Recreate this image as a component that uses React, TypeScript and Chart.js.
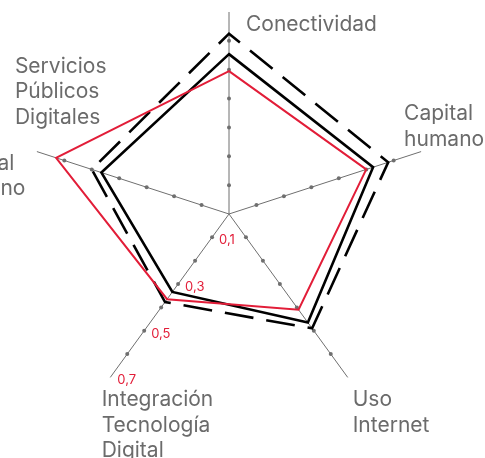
import React, { useEffect, useRef } from "react";
import { Chart, registerables } from "chart.js";

Chart.register(...registerables);

// ---- data ----
const axisLabels = [
  "Conectividad",
  "Capital humano",
  "Uso Internet",
  "Integración Tecnología Digital",
  "Servicios Públicos Digitales",
];
const axisLabelLines = [
  ["Conectividad"],
  ["Capital", "humano"],
  ["Uso", "Internet"],
  ["Integración", "Tecnología", "Digital"],
  ["Servicios", "Públicos", "Digitales"],
];
// label fragment of a neighbouring chart, cut by the left edge
const edgeLabelLines = ["Capital", "humano"];

const seriesRed = [0.495, 0.5, 0.41, 0.365, 0.63];
const seriesBlack = [0.554, 0.525, 0.465, 0.334, 0.465];
const seriesDashed = [0.625, 0.58, 0.49, 0.377, 0.5];

const tickValues = [0.1, 0.3, 0.5, 0.7];
const tickLabels = ["0,1", "0,3", "0,5", "0,7"];
const dotValues = [0.1, 0.2, 0.3, 0.4, 0.5, 0.6];
const scaleMax = 0.7;

// ---- styling ----
const RED = "#e21d38";
const GREY_TEXT = "#6b6b6b";
const GREY_AXIS = "#6f6f6f";
const FONT = "Inter, 'DejaVu Sans', sans-serif";
const TICK_AXIS = 3;
const labelOffsets = [
  [17, 19],
  [-17, -31.5],
  [5, 28.6],
  [-8.6, 28.6],
  [-22, -79],
];
const edgeOffset = [-91.5, 18.4];
const LINE_H = 25.5;

const overlayPlugin = {
  id: "overlay",
  beforeDatasetsDraw(chart: any) {
    const scale = chart.scales.r;
    const ctx = chart.ctx;
    ctx.save();
    ctx.fillStyle = GREY_AXIS;
    for (let i = 0; i < axisLabels.length; i++) {
      for (const v of dotValues) {
        const p = scale.getPointPositionForValue(i, v);
        ctx.beginPath();
        ctx.arc(p.x, p.y, 2, 0, Math.PI * 2);
        ctx.fill();
      }
    }
    ctx.restore();
  },
  afterDatasetsDraw(chart: any) {
    const scale = chart.scales.r;
    const ctx = chart.ctx;
    ctx.save();
    ctx.font = `21px ${FONT}`;
    ctx.fillStyle = GREY_TEXT;
    ctx.textAlign = "left";
    ctx.textBaseline = "alphabetic";
    axisLabelLines.forEach((lines, i) => {
      const p = scale.getPointPosition(i, scale.drawingArea);
      const [dx, dy] = labelOffsets[i];
      lines.forEach((line, k) => {
        ctx.fillText(line, p.x + dx, p.y + dy + k * LINE_H);
      });
    });
    {
      const p = scale.getPointPosition(4, scale.drawingArea);
      edgeLabelLines.forEach((line, k) => {
        ctx.fillText(line, p.x + edgeOffset[0], p.y + edgeOffset[1] + k * LINE_H);
      });
    }
    ctx.font = `13px ${FONT}`;
    ctx.fillStyle = RED;
    ctx.textBaseline = "middle";
    tickValues.forEach((v, k) => {
      const p = scale.getPointPositionForValue(TICK_AXIS, v);
      ctx.fillText(tickLabels[k], p.x + 7, p.y + 3);
    });
    ctx.restore();
  },
};

export default function App() {
  const canvasRef = useRef<HTMLCanvasElement | null>(null);

  useEffect(() => {
    if (!canvasRef.current) return;
    const chart = new Chart(canvasRef.current, {
      type: "radar",
      data: {
        labels: axisLabels,
        datasets: [
          {
            label: "Serie roja",
            data: seriesRed,
            borderColor: RED,
            borderWidth: 2,
            backgroundColor: "transparent",
            fill: false,
            pointRadius: 0,
            pointHoverRadius: 0,
          },
          {
            label: "Serie negra",
            data: seriesBlack,
            borderColor: "#000000",
            borderWidth: 2.6,
            backgroundColor: "transparent",
            fill: false,
            pointRadius: 0,
            pointHoverRadius: 0,
          },
          {
            label: "Serie discontinua",
            data: seriesDashed,
            borderColor: "#000000",
            borderWidth: 2.6,
            borderDash: [29, 13],
            borderDashOffset: 15,
            backgroundColor: "transparent",
            fill: false,
            pointRadius: 0,
            pointHoverRadius: 0,
          },
        ],
      },
      options: {
        animation: false,
        responsive: false,
        maintainAspectRatio: false,
        devicePixelRatio: 1,
        layout: { padding: { left: 27, right: 54, top: 12, bottom: 42 } },
        plugins: {
          legend: { display: false },
          tooltip: { enabled: false },
        },
        elements: { line: { tension: 0, borderJoinStyle: "miter" } },
        scales: {
          r: {
            min: 0,
            max: scaleMax,
            beginAtZero: true,
            grid: { display: false },
            angleLines: { display: true, color: GREY_AXIS, lineWidth: 1 },
            pointLabels: { display: false },
            ticks: { display: false, stepSize: 0.1 },
          },
        },
      },
      plugins: [overlayPlugin],
    });
    return () => chart.destroy();
  }, []);

  return (
    <div style={{ width: 469, height: 442 }}>
      <canvas
        ref={canvasRef}
        width={485}
        height={458}
        style={{
          display: "block",
          position: "fixed",
          left: 0,
          top: 0,
          width: 485,
          height: 458,
        }}
      />
    </div>
  );
}
